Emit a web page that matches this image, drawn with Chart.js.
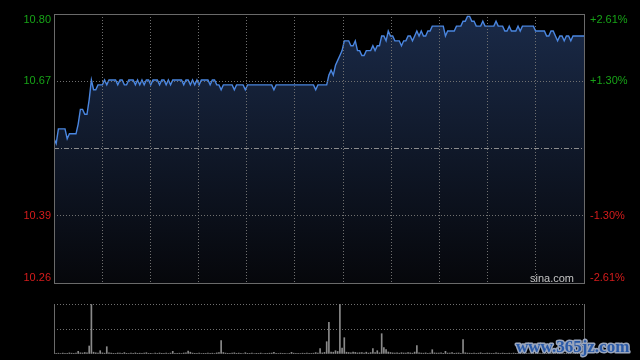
<!DOCTYPE html>
<html><head><meta charset="utf-8">
<script src="https://cdn.jsdelivr.net/npm/chart.js@4/dist/chart.umd.min.js"></script>
<style>
html,body{margin:0;padding:0;background:#000;width:640px;height:360px;overflow:hidden}
canvas{position:absolute;left:0}
#c1{top:0}
#c2{top:290px}
</style></head><body>
<canvas id="c1" width="640" height="300"></canvas>
<canvas id="c2" width="640" height="70"></canvas>
<script>
const prevClose = 10.53;
const rangePct = 2.61;
const priceTickLabels = ['10.80', '10.67', '10.39', '10.26'];
const pctTickLabels = ['+2.61%', '+1.30%', '-1.30%', '-2.61%'];

const prices = [
10.55,10.54,10.57,10.57,10.57,10.57,10.55,10.56,10.56,10.56,
10.56,10.58,10.61,10.61,10.60,10.60,10.63,10.67,10.65,10.65,
10.66,10.66,10.66,10.67,10.66,10.67,10.67,10.67,10.67,10.66,
10.67,10.67,10.66,10.66,10.67,10.67,10.67,10.66,10.67,10.66,
10.67,10.66,10.67,10.67,10.66,10.67,10.67,10.67,10.66,10.67,
10.67,10.66,10.67,10.66,10.67,10.67,10.67,10.67,10.67,10.66,
10.67,10.67,10.66,10.67,10.66,10.67,10.66,10.67,10.67,10.67,
10.67,10.66,10.67,10.67,10.66,10.66,10.65,10.66,10.66,10.66,
10.66,10.66,10.65,10.66,10.66,10.66,10.66,10.65,10.66,10.66,
10.66,10.66,10.66,10.66,10.66,10.66,10.66,10.66,10.66,10.66,
10.65,10.66,10.66,10.66,10.66,10.66,10.66,10.66,10.66,10.66,
10.66,10.66,10.66,10.66,10.66,10.66,10.66,10.66,10.66,10.65,
10.66,10.66,10.66,10.66,10.66,10.68,10.69,10.68,10.70,10.71,
10.72,10.73,10.75,10.75,10.75,10.74,10.74,10.75,10.73,10.73,
10.72,10.72,10.73,10.73,10.73,10.74,10.73,10.74,10.74,10.76,
10.76,10.75,10.77,10.76,10.76,10.75,10.75,10.75,10.74,10.75,
10.75,10.76,10.76,10.75,10.76,10.77,10.76,10.77,10.76,10.76,
10.77,10.77,10.78,10.78,10.78,10.78,10.78,10.78,10.76,10.77,
10.77,10.77,10.77,10.78,10.78,10.78,10.79,10.79,10.80,10.80,
10.79,10.79,10.78,10.78,10.78,10.79,10.78,10.78,10.78,10.78,
10.78,10.79,10.78,10.78,10.78,10.77,10.77,10.78,10.77,10.77,
10.77,10.78,10.77,10.78,10.78,10.78,10.78,10.78,10.78,10.77,
10.77,10.77,10.77,10.77,10.76,10.76,10.77,10.77,10.76,10.75,
10.76,10.76,10.75,10.76,10.76,10.75,10.76,10.76,10.76,10.76,
10.76,10.76
];

const volumes = [
120,60,80,50,90,70,60,110,80,60,
90,270,120,100,150,110,800,4950,180,120,
90,330,110,80,730,120,90,70,60,100,
80,60,140,70,50,90,60,110,70,80,
60,90,130,60,70,50,80,60,100,70,
60,80,50,90,270,70,60,80,50,100,
120,300,180,90,70,60,80,50,70,60,
90,60,80,50,110,140,1330,150,90,70,
60,80,120,70,90,60,50,130,70,60,
80,50,70,60,90,50,70,60,80,90,
170,60,50,80,60,70,50,60,170,80,
60,70,50,80,60,90,70,60,80,140,
90,530,110,160,1230,3170,200,180,330,250,
5000,600,1630,180,150,120,200,160,110,130,
150,100,180,90,140,530,130,330,120,2030,
630,430,200,150,110,90,120,80,130,100,
90,140,110,80,190,830,120,90,80,110,
70,90,430,110,90,80,120,70,270,90,
80,130,70,90,100,60,1430,120,90,80,
70,90,60,80,120,70,60,90,80,60,
70,110,80,60,90,70,60,80,50,90,
70,60,80,120,70,60,90,70,80,60,
70,90,60,80,70,60,110,70,60,80,
90,70,60,80,70,150,60,80,90,70,
100,130
];

const times = [];
function fmt(m){const h=Math.floor(m/60),mm=m%60;return (h<10?'0':'')+h+':'+(mm<10?'0':'')+mm;}
for (let m = 9*60+30; m <= 11*60+30; m++) times.push(fmt(m));
for (let m = 13*60; m <= 15*60; m++) times.push(fmt(m));

const yMax = prevClose * (1 + rangePct/100);
const yMin = prevClose * (1 - rangePct/100);
const yTicks = [yMax, (yMax+prevClose)/2, prevClose, (yMin+prevClose)/2, yMin];
const lastIdx = times.length - 1;
const volMax = Math.max(...volumes);

const gridGray = '#707070';
const frameGray = '#6a6a6a';
const green = '#17a317';
const red = '#d61c1c';
const FONT = '"Liberation Sans", Arial, sans-serif';

const framePlugin = {
  id: 'frame',
  afterDraw(chart) {
    const a = chart.chartArea, ctx = chart.ctx;
    ctx.save();
    ctx.strokeStyle = frameGray; ctx.lineWidth = 1;
    ctx.strokeRect(a.left + 0.5, a.top + 0.5, a.right - a.left, a.bottom - a.top);
    ctx.restore();
  }
};

const labelPlugin = {
  id: 'labels',
  afterDraw(chart) {
    const ctx = chart.ctx, y = chart.scales.y, a = chart.chartArea;
    const vals = [yTicks[0], yTicks[1], yTicks[3], yTicks[4]];
    const offs = [6, 0, 0, -5];
    const cols = [green, green, red, red];
    ctx.save();
    ctx.font = '11px ' + FONT;
    ctx.textBaseline = 'middle';
    vals.forEach((v, k) => {
      const py = y.getPixelForValue(v) + offs[k];
      ctx.fillStyle = cols[k];
      ctx.textAlign = 'right';
      ctx.fillText(priceTickLabels[k], a.left - 3, py);
      ctx.textAlign = 'left';
      ctx.fillText(pctTickLabels[k], a.right + 6, py);
    });
    ctx.font = '11px ' + FONT;
    ctx.textAlign = 'right';
    ctx.textBaseline = 'bottom';
    ctx.fillStyle = '#c4c4c4';
    ctx.fillText('sina.com', a.right - 10, a.bottom + 1);
    ctx.restore();
  }
};

new Chart(document.getElementById('c1'), {
  type: 'line',
  data: {
    datasets: [
      {
        data: prices.map((p, i) => ({x: i, y: p})),
        borderColor: '#4a86e0',
        borderWidth: 1.4,
        pointRadius: 0,
        tension: 0,
        fill: 'start',
        backgroundColor: (ctx) => {
          const a = ctx.chart.chartArea;
          if (!a) return 'rgba(0,0,0,0)';
          const g = ctx.chart.ctx.createLinearGradient(0, a.top, 0, a.bottom);
          g.addColorStop(0, '#1a2a48');
          g.addColorStop(1, '#06070b');
          return g;
        },
        order: 1
      },
      {
        data: [{x: 0, y: prevClose}, {x: lastIdx, y: prevClose}],
        borderColor: '#8c8c8c',
        borderWidth: 1,
        borderDash: [5, 2, 1, 2],
        pointRadius: 0,
        fill: false,
        order: 0
      }
    ]
  },
  options: {
    responsive: false, animation: false, devicePixelRatio: 1,
    layout: {padding: {top: 14, left: 0, right: 0, bottom: 0}},
    plugins: {legend: {display: false}, tooltip: {enabled: false}},
    scales: {
      x: {
        type: 'linear', min: 0, max: lastIdx,
        afterFit: s => { s.height = 17; },
        afterBuildTicks: s => { s.ticks = Array.from({length: 12}, (_, k) => ({value: k * lastIdx / 11})); },
        ticks: {display: false},
        grid: {z: 1, drawTicks: false, color: c => (c.index > 0 && c.index < 11) ? gridGray : 'rgba(0,0,0,0)'},
        border: {display: false, dash: [1, 2]}
      },
      y: {
        position: 'left', min: yMin, max: yMax,
        afterFit: s => { s.width = 54; },
        afterBuildTicks: s => { s.ticks = yTicks.map(v => ({value: v})); },
        ticks: {display: false},
        grid: {z: 1, drawTicks: false, color: c => (c.index === 1 || c.index === 3) ? gridGray : 'rgba(0,0,0,0)'},
        border: {display: false, dash: [1, 2]}
      },
      yr: {
        position: 'right', min: yMin, max: yMax,
        afterFit: s => { s.width = 56; },
        ticks: {display: false},
        grid: {display: false},
        border: {display: false}
      }
    }
  },
  plugins: [framePlugin, labelPlugin]
});

const volFramePlugin = {
  id: 'volframe',
  afterDraw(chart) {
    const a = chart.chartArea, ctx = chart.ctx;
    ctx.save();
    ctx.strokeStyle = frameGray; ctx.lineWidth = 1;
    ctx.beginPath();
    ctx.moveTo(a.left + 0.5, a.top); ctx.lineTo(a.left + 0.5, a.bottom);
    ctx.moveTo(a.right + 0.5, a.top); ctx.lineTo(a.right + 0.5, a.bottom);
    ctx.stroke();
    ctx.font = 'bold 17px "Liberation Serif", serif';
    ctx.textAlign = 'left';
    ctx.textBaseline = 'alphabetic';
    ctx.lineJoin = 'round';
    ctx.lineWidth = 3;
    ctx.strokeStyle = '#9aa6bd';
    ctx.strokeText('www.365jz.com', 516, 62);
    ctx.fillStyle = '#2a5aa8';
    ctx.fillText('www.365jz.com', 516, 62);
    ctx.restore();
  }
};

new Chart(document.getElementById('c2'), {
  type: 'bar',
  data: {
    datasets: [{
      data: volumes.map((v, i) => ({x: i, y: v})),
      backgroundColor: '#8a8a8a',
      barThickness: 1,
      borderWidth: 0
    }]
  },
  options: {
    responsive: false, animation: false, devicePixelRatio: 1,
    layout: {padding: {top: 14, left: 0, right: 0, bottom: 0}},
    plugins: {legend: {display: false}, tooltip: {enabled: false}},
    scales: {
      x: {
        type: 'linear', min: 0, max: lastIdx, offset: false,
        afterFit: s => { s.height = 6; },
        ticks: {display: false},
        grid: {display: false},
        border: {display: false}
      },
      y: {
        position: 'left', min: 0, max: volMax,
        afterFit: s => { s.width = 54; },
        afterBuildTicks: s => { s.ticks = [0, volMax/2, volMax].map(v => ({value: v})); },
        ticks: {display: false},
        grid: {drawTicks: false, color: c => c.index > 0 ? gridGray : 'rgba(0,0,0,0)'},
        border: {display: false, dash: [1, 2]}
      },
      yr: {
        position: 'right', min: 0, max: volMax,
        afterFit: s => { s.width = 56; },
        ticks: {display: false},
        grid: {display: false},
        border: {display: false}
      }
    }
  },
  plugins: [volFramePlugin]
});
</script>
</body></html>
